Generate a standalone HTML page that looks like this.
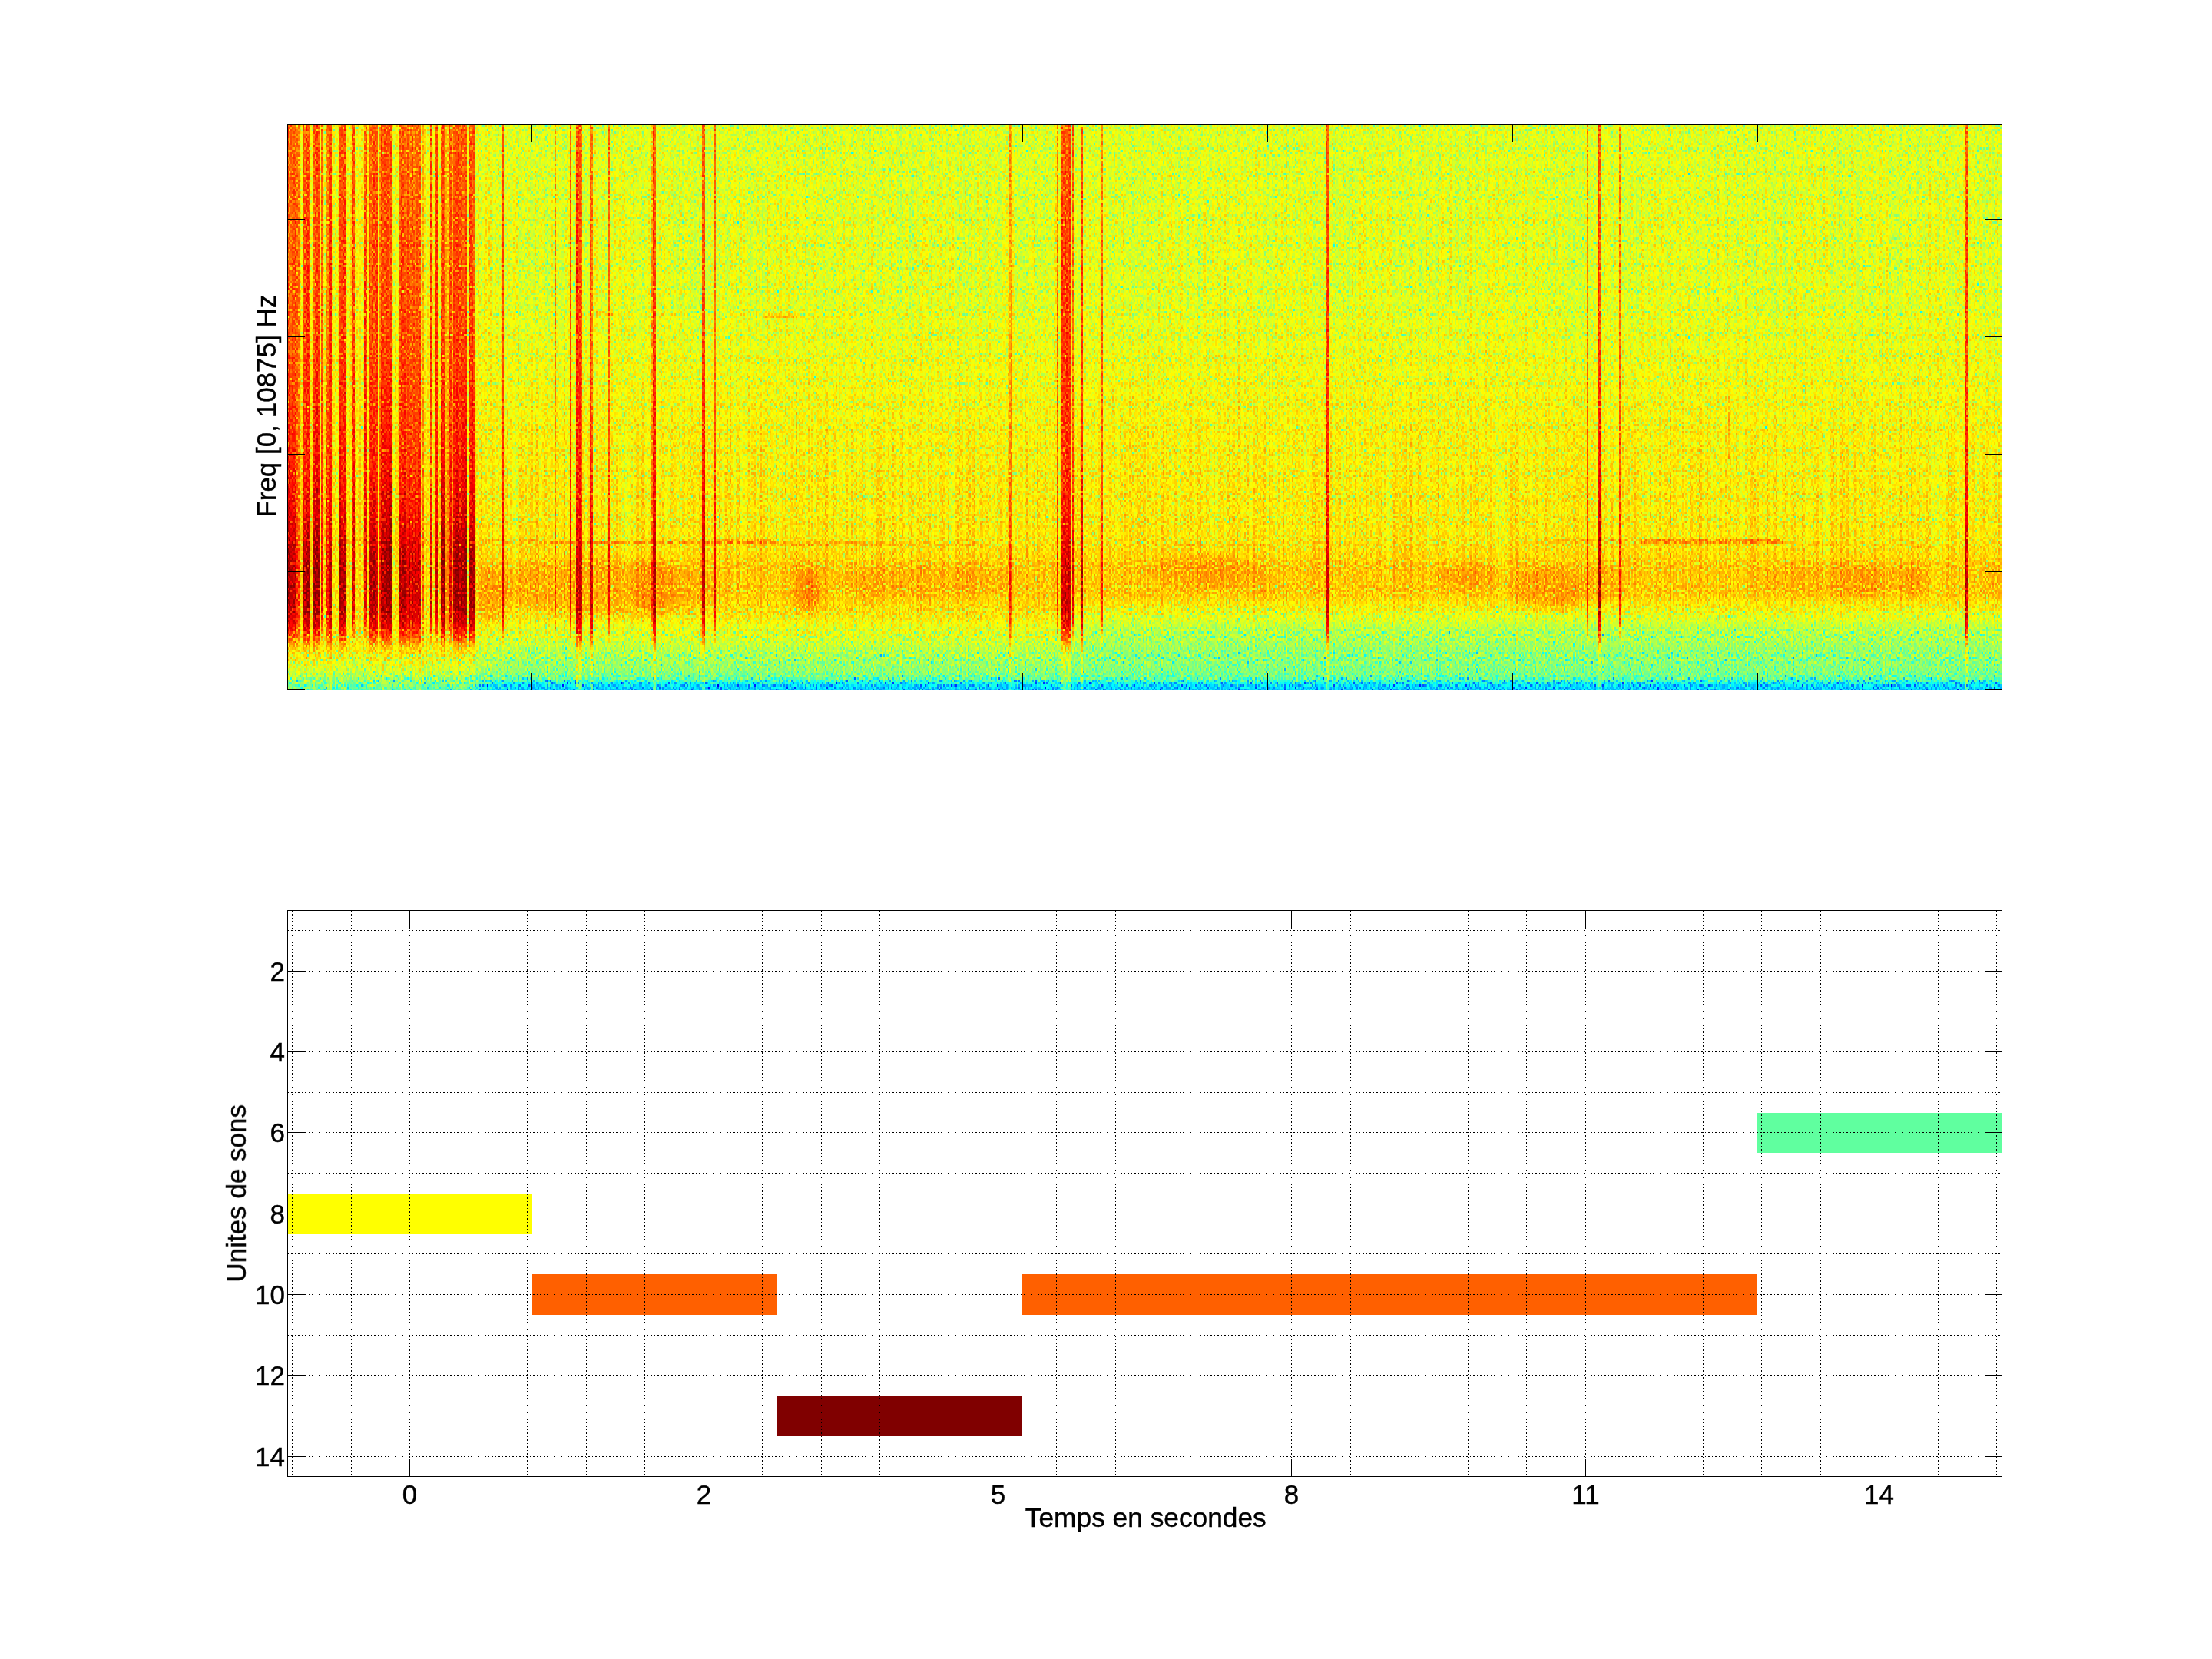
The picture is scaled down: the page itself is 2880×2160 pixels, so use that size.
<!DOCTYPE html><html><head><meta charset="utf-8"><title>figure</title><style>html,body{margin:0;padding:0;background:#fff}svg{display:block}text{font-family:"Liberation Sans",sans-serif;font-size:35.0px;fill:#000;stroke:#000;stroke-width:0.45px}</style></head><body>
<svg width="2880" height="2160" viewBox="0 0 2880 2160">
<defs><linearGradient id="bg" gradientUnits="userSpaceOnUse" x1="0" y1="0.0" x2="0" y2="737.0"><stop offset="0.0000" stop-color="#966e00"/><stop offset="0.3229" stop-color="#986e00"/><stop offset="0.5400" stop-color="#9f6e00"/><stop offset="0.7300" stop-color="#a36e00"/><stop offset="0.7843" stop-color="#a56e00"/><stop offset="0.8521" stop-color="#a36e00"/><stop offset="0.8725" stop-color="#9f7500"/><stop offset="0.8928" stop-color="#997d00"/><stop offset="0.9172" stop-color="#918400"/><stop offset="0.9471" stop-color="#868a00"/><stop offset="0.9715" stop-color="#808e00"/><stop offset="0.9783" stop-color="#799000"/><stop offset="0.9824" stop-color="#6e9200"/><stop offset="0.9864" stop-color="#5e9400"/><stop offset="0.9919" stop-color="#549600"/><stop offset="1.0000" stop-color="#4e9900"/></linearGradient><linearGradient id="bgR" gradientUnits="userSpaceOnUse" x1="0" y1="0.0" x2="0" y2="737.0"><stop offset="0.0000" stop-color="#966e00"/><stop offset="0.3229" stop-color="#986e00"/><stop offset="0.5400" stop-color="#9f6e00"/><stop offset="0.7300" stop-color="#a36e00"/><stop offset="0.7843" stop-color="#a56e00"/><stop offset="0.8277" stop-color="#a46e00"/><stop offset="0.8467" stop-color="#9e6e00"/><stop offset="0.8657" stop-color="#967300"/><stop offset="0.8860" stop-color="#8f7a00"/><stop offset="0.9172" stop-color="#878400"/><stop offset="0.9471" stop-color="#818a00"/><stop offset="0.9715" stop-color="#7d8e00"/><stop offset="0.9783" stop-color="#779000"/><stop offset="0.9824" stop-color="#6e9200"/><stop offset="0.9864" stop-color="#5e9400"/><stop offset="0.9919" stop-color="#549600"/><stop offset="1.0000" stop-color="#4e9900"/></linearGradient><linearGradient id="stA" gradientUnits="userSpaceOnUse" x1="0" y1="0.0" x2="0" y2="737.0"><stop offset="0.0000" stop-color="#c86e00"/><stop offset="0.3908" stop-color="#cf6e00"/><stop offset="0.5943" stop-color="#d66e00"/><stop offset="0.7164" stop-color="#e26e00"/><stop offset="0.7843" stop-color="#ec6e00"/><stop offset="0.8521" stop-color="#ec6e00"/><stop offset="0.8860" stop-color="#de7a00"/><stop offset="0.9064" stop-color="#cf8200" stop-opacity="0.85"/><stop offset="0.9240" stop-color="#bd8500" stop-opacity="0.55"/><stop offset="0.9376" stop-color="#ad8800" stop-opacity="0.45"/><stop offset="0.9674" stop-color="#9e8e00" stop-opacity="0.40"/><stop offset="1.0000" stop-color="#999900" stop-opacity="0.40"/></linearGradient><linearGradient id="stB" gradientUnits="userSpaceOnUse" x1="0" y1="0.0" x2="0" y2="737.0"><stop offset="0.0000" stop-color="#c86e00"/><stop offset="0.3908" stop-color="#cf6e00"/><stop offset="0.5943" stop-color="#d66e00"/><stop offset="0.7164" stop-color="#e06e00"/><stop offset="0.7843" stop-color="#e86e00"/><stop offset="0.8521" stop-color="#e66e00"/><stop offset="0.8765" stop-color="#d97700"/><stop offset="0.8955" stop-color="#cc7e00" stop-opacity="0.80"/><stop offset="0.9118" stop-color="#bd8300" stop-opacity="0.40"/><stop offset="0.9254" stop-color="#b28600" stop-opacity="0.00"/></linearGradient><linearGradient id="stC" gradientUnits="userSpaceOnUse" x1="0" y1="0.0" x2="0" y2="737.0"><stop offset="0.0000" stop-color="#c86e00"/><stop offset="0.3908" stop-color="#cf6e00"/><stop offset="0.5943" stop-color="#d96e00"/><stop offset="0.7028" stop-color="#e66e00"/><stop offset="0.7707" stop-color="#f46e00"/><stop offset="0.8521" stop-color="#f46e00"/><stop offset="0.8860" stop-color="#e67a00"/><stop offset="0.9064" stop-color="#d48200" stop-opacity="0.85"/><stop offset="0.9240" stop-color="#bf8500" stop-opacity="0.50"/><stop offset="0.9376" stop-color="#b08800" stop-opacity="0.30"/><stop offset="0.9674" stop-color="#9e8e00" stop-opacity="0.25"/><stop offset="1.0000" stop-color="#949900" stop-opacity="0.25"/></linearGradient><linearGradient id="lift" gradientUnits="userSpaceOnUse" x1="0" y1="0.0" x2="0" y2="737.0"><stop offset="0.0000" stop-color="#a26e00" stop-opacity="0.55"/><stop offset="0.7300" stop-color="#a76e00" stop-opacity="0.60"/><stop offset="0.9281" stop-color="#a38600" stop-opacity="0.90"/><stop offset="0.9674" stop-color="#918e00" stop-opacity="0.90"/><stop offset="1.0000" stop-color="#759900" stop-opacity="0.85"/></linearGradient><linearGradient id="band" gradientUnits="userSpaceOnUse" x1="0" y1="543.0" x2="0" y2="653.0"><stop offset="0.0000" stop-color="#b26e00" stop-opacity="0.00"/><stop offset="0.2727" stop-color="#b86e00"/><stop offset="0.6364" stop-color="#b86e00"/><stop offset="1.0000" stop-color="#b27a00" stop-opacity="0.00"/></linearGradient><filter id="blur" x="-20%" y="-50%" width="140%" height="200%" color-interpolation-filters="sRGB"><feGaussianBlur stdDeviation="9 6"/></filter><filter id="jet" x="0" y="0" width="2233" height="737" filterUnits="userSpaceOnUse" color-interpolation-filters="sRGB">
<feTurbulence type="fractalNoise" baseFrequency="0.42 0.3" numOctaves="1" seed="7" result="n"/>
<feColorMatrix in="n" type="matrix" values="1 0 0 0 0 1 0 0 0 0 1 0 0 0 0 0 0 0 0 1" result="ng0"/>
<feComponentTransfer in="ng0" result="ng"><feFuncR type="table" tableValues="0 0 .3 .52 .66 .76 .83 .88 .92 .95 .97"/><feFuncG type="table" tableValues="0 0 .3 .52 .66 .76 .83 .88 .92 .95 .97"/><feFuncB type="table" tableValues="0 0 .3 .52 .66 .76 .83 .88 .92 .95 .97"/></feComponentTransfer>
<feTurbulence type="fractalNoise" baseFrequency="0.45 0.003" numOctaves="1" seed="11" result="c"/>
<feColorMatrix in="c" type="matrix" values="1 0 0 0 0 1 0 0 0 0 1 0 0 0 0 0 0 0 0 1" result="cg"/>
<feColorMatrix in="SourceGraphic" type="matrix" values="0 1 0 0 0 0 1 0 0 0 0 1 0 0 0 0 0 0 0 1" result="amp"/>
<feColorMatrix in="SourceGraphic" type="matrix" values=".5 -.3695 0 0 .25 .5 -.3695 0 0 .25 .5 -.3695 0 0 .25 0 0 0 0 1" result="t1"/>
<feComposite in="amp" in2="ng" operator="arithmetic" k1="0.5" k2="0" k3="0" k4="0" result="an"/>
<feComposite in="t1" in2="an" operator="arithmetic" k1="0" k2="1" k3="1" k4="0" result="s1"/>
<feComposite in="s1" in2="cg" operator="arithmetic" k1="0" k2="1" k3="0.075" k4="-0.037" result="sum"/>
<feFlood x="0" y="1" width="1" height="1" flood-color="#000" result="dot"/>
<feOffset in="dot" dx="0" dy="0" x="0" y="0" width="2" height="3" result="cell"/>
<feTile in="cell" result="grid"/>
<feComposite in="sum" in2="grid" operator="in" result="samp"/>
<feMorphology in="samp" operator="dilate" radius="0 1" result="v3"/>
<feOffset in="v3" dx="1" dy="0" result="v3o"/>
<feMerge result="pix"><feMergeNode in="v3"/><feMergeNode in="v3o"/></feMerge>
<feComponentTransfer in="pix">
<feFuncR type="table" tableValues="0 0 0 0 0 0 0 0 .5 1 1 1 .5 .5 .5 .5 .5"/>
<feFuncG type="table" tableValues="0 0 0 0 0 0 .5 1 1 1 .5 0 0 0 0 0 0"/>
<feFuncB type="table" tableValues=".5 .5 .5 .5 .5 1 1 1 .5 0 0 0 0 0 0 0 0"/>
</feComponentTransfer>
</filter></defs>
<rect width="2880" height="2160" fill="#fff"/>
<g transform="translate(374,162)"><g filter="url(#jet)"><rect x="0" y="0" width="2233" height="737" fill="url(#bg)"/><rect x="998.0" y="598.0" width="20.0" height="139.0" fill="url(#bgR)" opacity="0.25"/><rect x="1018.0" y="598.0" width="20.0" height="139.0" fill="url(#bgR)" opacity="0.50"/><rect x="1038.0" y="598.0" width="20.0" height="139.0" fill="url(#bgR)" opacity="0.75"/><rect x="1058.0" y="598.0" width="1175.0" height="139.0" fill="url(#bgR)"/><rect x="0.0" y="0" width="226.0" height="737" fill="url(#lift)" opacity="1.00"/><rect x="226.0" y="0" width="12.0" height="737" fill="url(#lift)" opacity="0.80"/><rect x="238.0" y="0" width="12.0" height="737" fill="url(#lift)" opacity="0.60"/><rect x="250.0" y="0" width="16.0" height="737" fill="url(#lift)" opacity="0.40"/><rect x="266.0" y="0" width="20.0" height="737" fill="url(#lift)" opacity="0.20"/><rect x="244.0" y="543.0" width="1989.0" height="110.0" fill="url(#band)" opacity="0.36"/><g filter="url(#blur)"><ellipse cx="266.0" cy="613.0" rx="18.0" ry="38.0" fill="#c26e00" opacity="0.50"/><ellipse cx="416.0" cy="603.0" rx="150.0" ry="36.0" fill="#bd6e00" opacity="0.42"/><ellipse cx="474.0" cy="603.0" rx="32.0" ry="36.0" fill="#c26e00" opacity="0.40"/><ellipse cx="674.0" cy="606.0" rx="7.0" ry="30.0" fill="#d16e00" opacity="0.55"/><ellipse cx="684.0" cy="608.0" rx="7.0" ry="30.0" fill="#d16e00" opacity="0.55"/><ellipse cx="671.0" cy="598.0" rx="28.0" ry="34.0" fill="#bf6e00" opacity="0.20"/><ellipse cx="754.0" cy="604.0" rx="7.0" ry="26.0" fill="#c76e00" opacity="0.40"/><ellipse cx="836.0" cy="595.0" rx="125.0" ry="22.0" fill="#bd6e00" opacity="0.35"/><ellipse cx="1196.0" cy="583.0" rx="75.0" ry="24.0" fill="#bf6e00" opacity="0.40"/><ellipse cx="1204.0" cy="583.0" rx="18.0" ry="20.0" fill="#c46e00" opacity="0.40"/><ellipse cx="1271.0" cy="603.0" rx="5.0" ry="20.0" fill="#cc6e00" opacity="0.50"/><ellipse cx="1536.0" cy="590.0" rx="42.0" ry="18.0" fill="#c26e00" opacity="0.45"/><ellipse cx="1639.0" cy="603.0" rx="45.0" ry="28.0" fill="#c46e00" opacity="0.45"/><ellipse cx="1666.0" cy="623.0" rx="14.0" ry="10.0" fill="#c76e00" opacity="0.40"/><ellipse cx="1711.0" cy="598.0" rx="32.0" ry="22.0" fill="#bf6e00" opacity="0.35"/><ellipse cx="2016.0" cy="593.0" rx="115.0" ry="22.0" fill="#bd6e00" opacity="0.32"/><ellipse cx="2054.0" cy="595.0" rx="14.0" ry="22.0" fill="#c76e00" opacity="0.45"/><ellipse cx="2118.0" cy="595.0" rx="11.0" ry="24.0" fill="#c76e00" opacity="0.45"/><ellipse cx="2222.0" cy="595.0" rx="14.0" ry="22.0" fill="#bf6e00" opacity="0.35"/></g><rect x="56.0" y="541.0" width="270.0" height="4.0" fill="#bd6e00" opacity="0.35"/><rect x="326.0" y="542.0" width="230.0" height="4.0" fill="#bf6e00" opacity="0.70"/><rect x="556.0" y="541.5" width="80.0" height="5.0" fill="#c26e00" opacity="0.80"/><rect x="636.0" y="544.0" width="125.0" height="4.0" fill="#ba6e00" opacity="0.50"/><rect x="761.0" y="544.0" width="135.0" height="4.0" fill="#ba6e00" opacity="0.30"/><rect x="1160.0" y="545.0" width="31.0" height="4.0" fill="#bd6e00" opacity="0.50"/><rect x="1236.0" y="545.0" width="36.0" height="4.0" fill="#ba6e00" opacity="0.40"/><rect x="1631.0" y="539.5" width="112.0" height="5.0" fill="#ba6e00" opacity="0.45"/><rect x="1762.0" y="540.5" width="185.0" height="5.0" fill="#bf6e00" opacity="0.80"/><rect x="1981.0" y="544.0" width="40.0" height="4.0" fill="#b86e00" opacity="0.35"/><rect x="2113.0" y="548.0" width="30.0" height="4.0" fill="#ba6e00" opacity="0.40"/><rect x="401.0" y="244.5" width="25.0" height="5.0" fill="#b86e00" opacity="0.60"/><rect x="482.0" y="245.0" width="24.0" height="4.0" fill="#b26e00" opacity="0.40"/><rect x="619.0" y="247.5" width="47.0" height="5.0" fill="#b86e00" opacity="0.60"/><rect x="666.0" y="248.0" width="70.0" height="4.0" fill="#b06e00" opacity="0.35"/><rect x="1876.0" y="355.0" width="2.0" height="80.0" fill="#bd6e00" opacity="0.55"/><rect x="0.0" y="0" width="12.0" height="737" fill="url(#stC)" opacity="0.90"/><rect x="12.0" y="0" width="4.0" height="737" fill="url(#stA)" opacity="0.70"/><rect x="20.0" y="0" width="10.0" height="737" fill="url(#stC)"/><rect x="34.0" y="0" width="8.0" height="737" fill="url(#stC)"/><rect x="44.0" y="0" width="2.0" height="737" fill="url(#stB)" opacity="0.90"/><rect x="50.0" y="0" width="4.0" height="737" fill="url(#stA)" opacity="0.75"/><rect x="54.0" y="0" width="4.0" height="737" fill="url(#stA)"/><rect x="68.0" y="0" width="8.0" height="737" fill="url(#stC)"/><rect x="84.0" y="0" width="4.0" height="737" fill="url(#stB)"/><rect x="100.0" y="0" width="4.0" height="737" fill="url(#stB)" opacity="0.95"/><rect x="106.0" y="0" width="12.0" height="737" fill="url(#stC)" opacity="0.95"/><rect x="120.0" y="0" width="2.0" height="737" fill="url(#stB)" opacity="0.60"/><rect x="122.0" y="0" width="14.0" height="737" fill="url(#stC)"/><rect x="146.0" y="0" width="8.0" height="737" fill="url(#stC)" opacity="0.95"/><rect x="154.0" y="0" width="18.0" height="737" fill="url(#stC)" opacity="0.85"/><rect x="172.0" y="0" width="2.0" height="737" fill="url(#stA)" opacity="0.95"/><rect x="176.0" y="0" width="2.0" height="737" fill="url(#stB)" opacity="0.50"/><rect x="186.0" y="0" width="2.0" height="737" fill="url(#stB)"/><rect x="192.0" y="0" width="4.0" height="737" fill="url(#stB)"/><rect x="200.0" y="0" width="6.0" height="737" fill="url(#stC)"/><rect x="206.0" y="0" width="4.0" height="737" fill="url(#stB)" opacity="0.35"/><rect x="210.0" y="0" width="4.0" height="737" fill="url(#stB)"/><rect x="214.0" y="0" width="2.0" height="737" fill="url(#stB)" opacity="0.45"/><rect x="216.0" y="0" width="18.0" height="737" fill="url(#stC)"/><rect x="236.0" y="0" width="8.0" height="737" fill="url(#stC)"/><rect x="280.0" y="0" width="2.0" height="737" fill="url(#stB)" opacity="0.90"/><rect x="348.0" y="0" width="2.0" height="737" fill="url(#stB)" opacity="0.60"/><rect x="368.0" y="0" width="2.0" height="737" fill="url(#stB)" opacity="0.90"/><rect x="376.0" y="0" width="8.0" height="737" fill="url(#stA)"/><rect x="394.0" y="0" width="4.0" height="737" fill="url(#stA)" opacity="0.90"/><rect x="418.0" y="0" width="2.0" height="737" fill="url(#stB)" opacity="0.80"/><rect x="474.0" y="0" width="2.0" height="737" fill="url(#stB)" opacity="0.50"/><rect x="476.0" y="0" width="4.0" height="737" fill="url(#stA)"/><rect x="540.0" y="0" width="4.0" height="737" fill="url(#stA)" opacity="0.95"/><rect x="556.0" y="0" width="2.0" height="737" fill="url(#stB)" opacity="0.90"/><rect x="940.0" y="0" width="4.0" height="737" fill="url(#stA)" opacity="0.60"/><rect x="1002.0" y="0" width="2.0" height="737" fill="url(#stB)" opacity="0.80"/><rect x="1008.0" y="0" width="12.0" height="737" fill="url(#stA)"/><rect x="1022.0" y="0" width="2.0" height="737" fill="url(#stB)" opacity="0.90"/><rect x="1034.0" y="0" width="2.0" height="737" fill="url(#stA)"/><rect x="1060.0" y="0" width="2.0" height="737" fill="url(#stB)" opacity="0.80"/><rect x="1352.0" y="0" width="4.0" height="737" fill="url(#stA)"/><rect x="1692.0" y="0" width="2.0" height="737" fill="url(#stB)" opacity="0.70"/><rect x="1706.0" y="0" width="4.0" height="737" fill="url(#stA)"/><rect x="1734.0" y="0" width="2.0" height="737" fill="url(#stB)" opacity="0.85"/><rect x="2184.0" y="0" width="4.0" height="737" fill="url(#stA)"/></g></g>
<g shape-rendering="crispEdges"><rect x="375" y="1554" width="318" height="53" fill="#ffff00"/><rect x="693" y="1659" width="319" height="53" fill="#ff6000"/><rect x="1012" y="1817" width="319" height="53" fill="#800000"/><rect x="1331" y="1659" width="957" height="53" fill="#ff6000"/><rect x="2288" y="1449" width="318" height="52" fill="#60ff9f"/></g>
<path d="M380.5 1185.5V1922.5M457.5 1185.5V1922.5M533.5 1185.5V1922.5M610.5 1185.5V1922.5M686.5 1185.5V1922.5M763.5 1185.5V1922.5M839.5 1185.5V1922.5M916.5 1185.5V1922.5M992.5 1185.5V1922.5M1069.5 1185.5V1922.5M1145.5 1185.5V1922.5M1222.5 1185.5V1922.5M1299.5 1185.5V1922.5M1375.5 1185.5V1922.5M1452.5 1185.5V1922.5M1528.5 1185.5V1922.5M1605.5 1185.5V1922.5M1681.5 1185.5V1922.5M1758.5 1185.5V1922.5M1834.5 1185.5V1922.5M1911.5 1185.5V1922.5M1987.5 1185.5V1922.5M2064.5 1185.5V1922.5M2140.5 1185.5V1922.5M2217.5 1185.5V1922.5M2293.5 1185.5V1922.5M2370.5 1185.5V1922.5M2446.5 1185.5V1922.5M2523.5 1185.5V1922.5M2599.5 1185.5V1922.5M374.5 1211.5H2606.5M374.5 1264.5H2606.5M374.5 1317.5H2606.5M374.5 1369.5H2606.5M374.5 1422.5H2606.5M374.5 1474.5H2606.5M374.5 1527.5H2606.5M374.5 1580.5H2606.5M374.5 1632.5H2606.5M374.5 1685.5H2606.5M374.5 1738.5H2606.5M374.5 1790.5H2606.5M374.5 1843.5H2606.5M374.5 1896.5H2606.5" stroke="#000" stroke-width="1" stroke-dasharray="1.5 3" fill="none" shape-rendering="crispEdges"/>
<g stroke="#000" stroke-width="1" fill="none"><path d="M692.5 162.5L692.5 185.0"/><path d="M692.5 898.5L692.5 876.0"/><path d="M1011.5 162.5L1011.5 185.0"/><path d="M1011.5 898.5L1011.5 876.0"/><path d="M1331.5 162.5L1331.5 185.0"/><path d="M1331.5 898.5L1331.5 876.0"/><path d="M1650.5 162.5L1650.5 185.0"/><path d="M1650.5 898.5L1650.5 876.0"/><path d="M1969.5 162.5L1969.5 185.0"/><path d="M1969.5 898.5L1969.5 876.0"/><path d="M2288.5 162.5L2288.5 185.0"/><path d="M2288.5 898.5L2288.5 876.0"/><path d="M374.5 285.5L397.0 285.5"/><path d="M2606.5 285.5L2584.0 285.5"/><path d="M374.5 438.5L397.0 438.5"/><path d="M2606.5 438.5L2584.0 438.5"/><path d="M374.5 591.5L397.0 591.5"/><path d="M2606.5 591.5L2584.0 591.5"/><path d="M374.5 744.5L397.0 744.5"/><path d="M2606.5 744.5L2584.0 744.5"/><path d="M374.5 897.5L397.0 897.5"/><path d="M2606.5 897.5L2584.0 897.5"/><rect x="374.5" y="162.5" width="2232.0" height="736.0" fill="none"/><path d="M533.5 1185.5L533.5 1208.0"/><path d="M533.5 1922.5L533.5 1900.0"/><path d="M916.5 1185.5L916.5 1208.0"/><path d="M916.5 1922.5L916.5 1900.0"/><path d="M1299.5 1185.5L1299.5 1208.0"/><path d="M1299.5 1922.5L1299.5 1900.0"/><path d="M1681.5 1185.5L1681.5 1208.0"/><path d="M1681.5 1922.5L1681.5 1900.0"/><path d="M2064.5 1185.5L2064.5 1208.0"/><path d="M2064.5 1922.5L2064.5 1900.0"/><path d="M2446.5 1185.5L2446.5 1208.0"/><path d="M2446.5 1922.5L2446.5 1900.0"/><path d="M374.5 1264.5L397.0 1264.5"/><path d="M2606.5 1264.5L2584.0 1264.5"/><path d="M374.5 1369.5L397.0 1369.5"/><path d="M2606.5 1369.5L2584.0 1369.5"/><path d="M374.5 1474.5L397.0 1474.5"/><path d="M2606.5 1474.5L2584.0 1474.5"/><path d="M374.5 1580.5L397.0 1580.5"/><path d="M2606.5 1580.5L2584.0 1580.5"/><path d="M374.5 1685.5L397.0 1685.5"/><path d="M2606.5 1685.5L2584.0 1685.5"/><path d="M374.5 1790.5L397.0 1790.5"/><path d="M2606.5 1790.5L2584.0 1790.5"/><path d="M374.5 1896.5L397.0 1896.5"/><path d="M2606.5 1896.5L2584.0 1896.5"/><rect x="374.5" y="1185.5" width="2232.0" height="737.0" fill="none"/></g>
<text x="533.5" y="1957.5" text-anchor="middle">0</text><text x="916.5" y="1957.5" text-anchor="middle">2</text><text x="1299.5" y="1957.5" text-anchor="middle">5</text><text x="1681.5" y="1957.5" text-anchor="middle">8</text><text x="2064.5" y="1957.5" text-anchor="middle">11</text><text x="2446.5" y="1957.5" text-anchor="middle">14</text><text x="371" y="1276.5" text-anchor="end">2</text><text x="371" y="1381.5" text-anchor="end">4</text><text x="371" y="1486.5" text-anchor="end">6</text><text x="371" y="1592.5" text-anchor="end">8</text><text x="371" y="1697.5" text-anchor="end">10</text><text x="371" y="1802.5" text-anchor="end">12</text><text x="371" y="1908.5" text-anchor="end">14</text><text x="1491.8" y="1987.5" text-anchor="middle" style="font-size:35.3px">Temps en secondes</text><text transform="translate(358.5,528.7) rotate(-90)" text-anchor="middle">Freq [0, 10875] Hz</text><text transform="translate(320,1553.8) rotate(-90)" text-anchor="middle">Unites de sons</text>
</svg></body></html>
